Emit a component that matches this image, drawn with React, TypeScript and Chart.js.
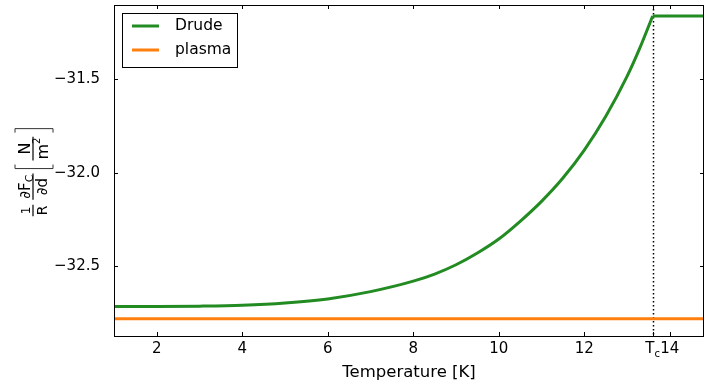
import React, { useEffect, useRef } from "react";
import { Chart, registerables } from "chart.js";
Chart.register(...registerables);

const TC = 13.6;
const X_MIN = 1;
const X_MAX = 14.8;
const Y_MIN = -32.876;
const Y_MAX = -31.101;

const drudeTemps = [1, 2, 3, 4, 5, 6, 7, 8, 8.5, 9, 9.5, 10, 10.5, 11, 11.5, 12, 12.5, 13, 13.3, 13.6];
const drudeValues = [-32.718, -32.718, -32.716, -32.711, -32.699, -32.677, -32.638, -32.582, -32.544, -32.494, -32.431, -32.356, -32.261, -32.154, -32.029, -31.879, -31.699, -31.484, -31.331, -31.16];
const drudeNormalTemps = [13.6, 14.8];
const drudeNormalValues = [-31.16, -31.16];
const plasmaTemps = [1, 14.8];
const plasmaValues = [-32.784, -32.784];

const xTickValues = [2, 4, 6, 8, 10, 12, 14];
const yTickValues = [-32.5, -32.0, -31.5];

const GREEN = "#228B22";
const ORANGE = "#ff7f0e";
const FONT = "DejaVu Sans";

const toPoints = (xs: number[], ys: number[]) => xs.map((x, i) => ({ x, y: ys[i] }));

type Seg = { t: string; s: number; dy?: number };

function segWidth(ctx: CanvasRenderingContext2D, segs: Seg[]) {
  let w = 0;
  segs.forEach((g) => {
    ctx.font = `${g.s}px '${FONT}'`;
    w += ctx.measureText(g.t).width;
  });
  return w;
}

function drawSegs(ctx: CanvasRenderingContext2D, segs: Seg[], x: number, y: number) {
  let cx = x;
  segs.forEach((g) => {
    ctx.font = `${g.s}px '${FONT}'`;
    ctx.fillText(g.t, cx, y + (g.dy || 0));
    cx += ctx.measureText(g.t).width;
  });
}

function drawYTitle(ctx: CanvasRenderingContext2D, cx: number, cy: number) {
  const fracs = [
    { num: [{ t: "1", s: 12 }], den: [{ t: "R", s: 14 }] },
    {
      num: [
        { t: "∂F", s: 15 },
        { t: "C", s: 11, dy: 3 },
      ],
      den: [{ t: "∂d", s: 15 }],
    },
    {
      num: [{ t: "N", s: 16 }],
      den: [
        { t: "m", s: 16 },
        { t: "2", s: 10, dy: -8 },
      ],
    },
  ];
  ctx.save();
  ctx.translate(cx, cy);
  ctx.rotate(-Math.PI / 2);
  ctx.fillStyle = "#000";
  ctx.strokeStyle = "#000";
  ctx.textAlign = "left";
  ctx.textBaseline = "alphabetic";
  const widths = fracs.map((f) => Math.max(segWidth(ctx, f.num), segWidth(ctx, f.den)) + 2);
  const gap = 5;
  const brW = 4;
  const inner = 4;
  const total = widths[0] + gap + widths[1] + gap + brW + inner + widths[2] + inner + brW;
  let x = -total / 2;
  const drawFrac = (f: any, w: number, x0: number) => {
    const nw = segWidth(ctx, f.num);
    const dw = segWidth(ctx, f.den);
    drawSegs(ctx, f.num, x0 + (w - nw) / 2, -3);
    drawSegs(ctx, f.den, x0 + (w - dw) / 2, 3.5 + 0.73 * f.den[0].s);
    ctx.lineWidth = 1.2;
    ctx.beginPath();
    ctx.moveTo(x0, 0);
    ctx.lineTo(x0 + w, 0);
    ctx.stroke();
  };
  drawFrac(fracs[0], widths[0], x);
  x += widths[0] + gap;
  drawFrac(fracs[1], widths[1], x);
  x += widths[1] + gap;
  const bt = -18;
  const bb = 20;
  ctx.lineWidth = 1;
  ctx.strokeStyle = "#333";
  ctx.beginPath();
  ctx.moveTo(x + brW, bt);
  ctx.lineTo(x, bt);
  ctx.lineTo(x, bb);
  ctx.lineTo(x + brW, bb);
  ctx.stroke();
  x += brW + inner;
  ctx.strokeStyle = "#000";
  drawFrac(fracs[2], widths[2], x);
  x += widths[2] + inner;
  ctx.strokeStyle = "#333";
  ctx.lineWidth = 1;
  ctx.beginPath();
  ctx.moveTo(x, bt);
  ctx.lineTo(x + brW, bt);
  ctx.lineTo(x + brW, bb);
  ctx.lineTo(x, bb);
  ctx.stroke();
  ctx.restore();
}

const decorPlugin = {
  id: "decor",
  beforeDatasetsDraw(chart: any) {
    const { ctx, chartArea: ca } = chart;
    const xs = chart.scales.x;
    const px = Math.round(xs.getPixelForValue(TC)) + 0.5;
    ctx.save();
    ctx.strokeStyle = "#000";
    ctx.lineWidth = 1.5;
    ctx.setLineDash([1.5, 2.5]);
    ctx.beginPath();
    ctx.moveTo(px, ca.top);
    ctx.lineTo(px, ca.bottom);
    ctx.stroke();
    ctx.restore();
  },
  afterDraw(chart: any) {
    const { ctx, chartArea: ca } = chart;
    const xs = chart.scales.x;
    const ys = chart.scales.y;
    ctx.save();
    ctx.strokeStyle = "#000";
    ctx.lineWidth = 1;
    ctx.setLineDash([]);
    ctx.strokeRect(ca.left + 0.5, ca.top + 0.5, ca.right - ca.left - 1, ca.bottom - ca.top);
    const tl = 4;
    ctx.beginPath();
    [...xTickValues, TC].forEach((v) => {
      const p = Math.round(xs.getPixelForValue(v)) + 0.5;
      ctx.moveTo(p, ca.bottom);
      ctx.lineTo(p, ca.bottom - tl);
      ctx.moveTo(p, ca.top);
      ctx.lineTo(p, ca.top + tl);
    });
    yTickValues.forEach((v) => {
      const p = Math.round(ys.getPixelForValue(v)) + 0.5;
      ctx.moveTo(ca.left, p);
      ctx.lineTo(ca.left + tl, p);
      ctx.moveTo(ca.right, p);
      ctx.lineTo(ca.right - tl, p);
    });
    ctx.stroke();

    // Tc tick label
    const tp = xs.getPixelForValue(TC);
    ctx.fillStyle = "#000";
    ctx.textBaseline = "alphabetic";
    ctx.textAlign = "left";
    ctx.font = `15px '${FONT}'`;
    const tw = ctx.measureText("T").width;
    ctx.font = `10px '${FONT}'`;
    const cw = ctx.measureText("c").width;
    const start = tp - (tw + cw) / 2;
    ctx.font = `15px '${FONT}'`;
    ctx.fillText("T", start, ca.bottom + 17);
    ctx.font = `10px '${FONT}'`;
    ctx.fillText("c", start + tw, ca.bottom + 21);

    // legend
    const lx = ca.left + 8;
    const ly = ca.top + 8;
    ctx.fillStyle = "#fff";
    ctx.fillRect(lx, ly, 115, 54);
    ctx.strokeStyle = "#000";
    ctx.lineWidth = 1;
    ctx.strokeRect(lx + 0.5, ly + 0.5, 115, 54);
    const items = [
      { label: "Drude", color: GREEN, y: ly + 13 },
      { label: "plasma", color: ORANGE, y: ly + 37 },
    ];
    items.forEach((it) => {
      ctx.strokeStyle = it.color;
      ctx.lineWidth = 3;
      ctx.beginPath();
      ctx.moveTo(lx + 10, it.y);
      ctx.lineTo(lx + 37, it.y);
      ctx.stroke();
      ctx.fillStyle = "#000";
      ctx.font = `15.5px '${FONT}'`;
      ctx.textBaseline = "middle";
      ctx.fillText(it.label, lx + 53, it.y);
    });

    drawYTitle(ctx, 33, (ca.top + ca.bottom) / 2 + 2);
    ctx.restore();
  },
};

export default function App() {
  const ref = useRef<HTMLCanvasElement>(null);
  useEffect(() => {
    document.body.style.margin = "0";
    if (!ref.current) return;
    const chart = new Chart(ref.current, {
      type: "line",
      data: {
        datasets: [
          {
            label: "Drude",
            data: toPoints(drudeTemps, drudeValues),
            borderColor: GREEN,
            borderWidth: 3,
            pointRadius: 0,
            cubicInterpolationMode: "monotone",
            fill: false,
          },
          {
            label: "Drude (T > Tc)",
            data: toPoints(drudeNormalTemps, drudeNormalValues),
            borderColor: GREEN,
            borderWidth: 3,
            pointRadius: 0,
            fill: false,
          },
          {
            label: "plasma",
            data: toPoints(plasmaTemps, plasmaValues),
            borderColor: ORANGE,
            borderWidth: 3,
            pointRadius: 0,
            fill: false,
          },
        ],
      },
      options: {
        animation: false,
        responsive: false,
        devicePixelRatio: 1,
        layout: { padding: { left: 0, right: 1, top: 5, bottom: 0 } },
        plugins: { legend: { display: false }, tooltip: { enabled: false } },
        scales: {
          x: {
            type: "linear",
            min: X_MIN,
            max: X_MAX,
            afterBuildTicks: (s: any) => {
              s.ticks = [...xTickValues, TC].sort((a, b) => a - b).map((v) => ({ value: v }));
            },
            afterFit: (s: any) => {
              s.height = 48;
              s.paddingLeft = 0;
              s.paddingRight = 0;
            },
            grid: { display: false },
            border: { display: false },
            ticks: {
              color: "#000",
              font: { family: FONT, size: 15 },
              padding: -4,
              maxRotation: 0,
              autoSkip: false,
              callback: (v: any) => (Math.abs(v - TC) < 1e-9 ? "" : String(v)),
            },
            title: {
              display: true,
              text: "Temperature [K]",
              color: "#000",
              font: { family: FONT, size: 16.5 },
              padding: { top: 0, bottom: 1 },
            },
          },
          y: {
            type: "linear",
            min: Y_MIN,
            max: Y_MAX,
            afterBuildTicks: (s: any) => {
              s.ticks = yTickValues.map((v) => ({ value: v }));
            },
            afterFit: (s: any) => {
              s.width = 114;
              s.paddingTop = 0;
              s.paddingBottom = 0;
            },
            grid: { display: false },
            border: { display: false },
            ticks: {
              color: "#000",
              font: { family: FONT, size: 15 },
              padding: 6,
              callback: (v: any) => (v < 0 ? "−" : "") + Math.abs(v).toFixed(1),
            },
          },
        },
      },
      plugins: [decorPlugin],
    });
    return () => chart.destroy();
  }, []);
  return (
    <div style={{ width: 705, height: 384 }}>
      <canvas ref={ref} width={705} height={384} />
    </div>
  );
}
